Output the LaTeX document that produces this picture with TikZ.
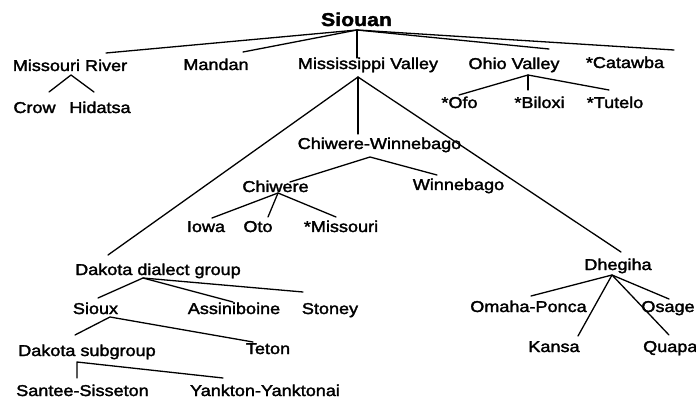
\documentclass[tikz,border=0pt]{standalone}
\usepackage{fontspec}
\setmainfont{Liberation Sans}[FakeStretch=1.15,FakeBold=2]
\begin{document}
\begin{tikzpicture}[x=1pt,y=-1pt,
  lbl/.style={anchor=base,inner sep=0pt,font=\fontsize{15.7}{18}\selectfont},
  lblw/.style={lbl,anchor=base west},
  root/.style={anchor=base,inner sep=0pt,font=\fontsize{18.5}{22}\selectfont\bfseries},
  br/.style={line width=1.3pt,line cap=round,line join=round}]
\useasboundingbox (0,0) rectangle (696,398);
% labels
\node[root] (siouan) at (356.5,26) {Siouan};
\node[lbl] (mor) at (70,71) {Missouri River};
\node[lbl] (mandan) at (216,70) {Mandan};
\node[lbl] (missv) at (368,69) {Mississippi Valley};
\node[lbl] (ohio) at (514,69) {Ohio Valley};
\node[lbl] (catawba) at (625,68) {*Catawba};
\node[lbl] (crow) at (34.5,113) {Crow};
\node[lbl] (hidatsa) at (100,113) {Hidatsa};
\node[lbl] (ofo) at (459.5,108) {*Ofo};
\node[lbl] (biloxi) at (539.5,108) {*Biloxi};
\node[lbl] (tutelo) at (615,108) {*Tutelo};
\node[lbl] (chw) at (379.5,149) {Chiwere-Winnebago};
\node[lbl] (chiwere) at (275.5,192) {Chiwere};
\node[lbl] (winnebago) at (458.5,190) {Winnebago};
\node[lbl] (iowa) at (206,232) {Iowa};
\node[lbl] (oto) at (258,232) {Oto};
\node[lbl] (missouri) at (341,232) {*Missouri};
\node[lbl] (ddg) at (158,275) {Dakota dialect group};
\node[lbl] (sioux) at (95.5,314) {Sioux};
\node[lbl] (assin) at (234,314) {Assiniboine};
\node[lbl] (stoney) at (330,314) {Stoney};
\node[lbl] (dsub) at (87,356) {Dakota subgroup};
\node[lbl] (teton) at (268,354) {Teton};
\node[lbl] (santee) at (82.5,396) {Santee-Sisseton};
\node[lbl] (yankton) at (265,396) {Yankton-Yanktonai};
\node[lbl] (dhegiha) at (618,270) {Dhegiha};
\node[lbl] (omaha) at (528.5,312) {Omaha-Ponca};
\node[lbl] (osage) at (668,312) {Osage};
\node[lbl] (kansa) at (554,352) {Kansa};
\node[lblw] (quapa) at (643,352) {Quapa};
% branch points
\coordinate (aS) at (357,30);
\coordinate (eMoR) at (106,53);
\coordinate (eMan) at (243,52);
\coordinate (eMiss) at (357,58);
\coordinate (eOhio) at (549,49);
\coordinate (eCat) at (674,50);
\coordinate (aMoR) at (71,75);
\coordinate (eCrow) at (49,92);
\coordinate (eHid) at (94,92);
\coordinate (aOhio) at (528,75);
\coordinate (eOfo) at (459,95);
\coordinate (eBil) at (528,90);
\coordinate (eTut) at (609,90);
\coordinate (aMiss) at (358,77);
\coordinate (eDdg) at (108,255);
\coordinate (eChw) at (358,134);
\coordinate (eDhe) at (621,252);
\coordinate (aChw) at (370,157);
\coordinate (eChi) at (290,182);
\coordinate (eWin) at (437,175);
\coordinate (aChi) at (278,193);
\coordinate (eIowa) at (212,218);
\coordinate (eOto) at (268,217);
\coordinate (eMis) at (336,217);
\coordinate (aDdg) at (143,278);
\coordinate (eSioux) at (98,298);
\coordinate (eAss) at (233,302);
\coordinate (eSto) at (303,292);
\coordinate (aSioux) at (110,317);
\coordinate (eDsub) at (75,335);
\coordinate (eTet) at (253,342);
\coordinate (aDsub) at (77,362);
\coordinate (eSan) at (77,378);
\coordinate (eYan) at (223,378);
\coordinate (aDhe) at (612,275);
\coordinate (eOma) at (531,296);
\coordinate (eKan) at (578,336);
\coordinate (eOsa) at (669,299);
\coordinate (eQua) at (669,335);
% connectors
\draw[br] (eMoR) -- (aS) -- (eCat);
\draw[br] (eMan) -- (aS) -- (eOhio);
\draw[br] (aS) -- (eMiss);
\draw[br] (eCrow) -- (aMoR) -- (eHid);
\draw[br] (eOfo) -- (aOhio) -- (eTut);
\draw[br] (aOhio) -- (eBil);
\draw[br] (eDdg) -- (aMiss) -- (eDhe);
\draw[br] (aMiss) -- (eChw);
\draw[br] (eChi) -- (aChw) -- (eWin);
\draw[br] (eIowa) -- (aChi) -- (eMis);
\draw[br] (aChi) -- (eOto);
\draw[br] (eSioux) -- (aDdg) -- (eSto);
\draw[br] (aDdg) -- (eAss);
\draw[br] (eDsub) -- (aSioux) -- (eTet);
\draw[br] (eSan) -- (aDsub) -- (eYan);
\draw[br] (eOma) -- (aDhe) -- (eOsa);
\draw[br] (eKan) -- (aDhe) -- (eQua);
\end{tikzpicture}
\end{document}
